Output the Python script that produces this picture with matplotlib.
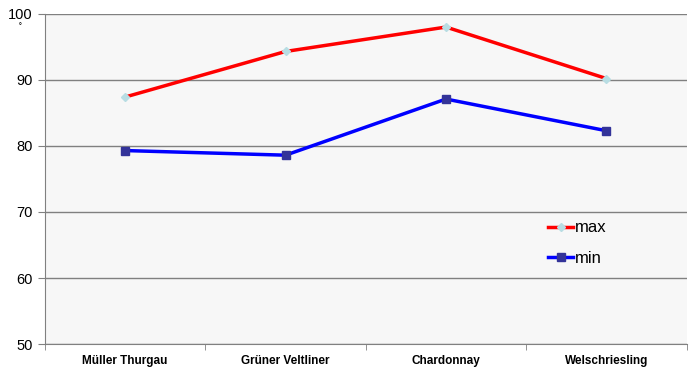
import matplotlib.pyplot as plt

plt.rcParams['font.family'] = ['Liberation Sans', 'DejaVu Sans']

sorts = ["Müller Thurgau", "Grüner Veltliner", "Chardonnay", "Welschriesling"]
max_vals = [87.4, 94.3, 98.0, 90.2]
min_vals = [79.3, 78.6, 87.1, 82.3]

fig = plt.figure(figsize=(7, 3.74), dpi=100)
ax = fig.add_axes([0.064, 0.080, 0.917, 0.883])
ax.set_facecolor('#f7f7f7')

x = range(len(sorts))
ax.plot(x, max_vals, color='#ff0000', lw=2.5, marker='D', ms=4.5,
        mfc='#b8dde3', mec='#b8dde3', label='max', zorder=3)
ax.plot(x, min_vals, color='#0000ff', lw=2.5, marker='s', ms=5.5,
        mfc='#333399', mec='#333399', label='min', zorder=3)

ax.set_ylim(50, 100)
ax.set_yticks([50, 60, 70, 80, 90, 100])
ax.set_xlim(-0.5, 3.5)
ax.set_xticks(x)
ax.set_xticklabels(sorts, fontsize=8.5, fontweight='bold')
ax.set_xticks([-0.5, 0.5, 1.5, 2.5, 3.5], minor=True)
ax.tick_params(axis='x', which='major', length=0, pad=8)
ax.tick_params(axis='x', which='minor', length=4, color='#808080')
ax.tick_params(axis='y', length=5, color='#808080', labelsize=10.5)

ax.grid(axis='y', color='#808080', lw=1)
ax.set_axisbelow(True)
for s in ['top', 'right']:
    ax.spines[s].set_visible(False)
for s in ['left', 'bottom']:
    ax.spines[s].set_color('#808080')

ax.legend(loc='center', bbox_to_anchor=(0.83, 0.305), frameon=False,
          fontsize=12, handlelength=1.5, handletextpad=0.1, labelspacing=0.95)
fig.text(0.027, 0.925, '˚', fontsize=7, va='center')

fig.savefig('out.png', dpi=100)
